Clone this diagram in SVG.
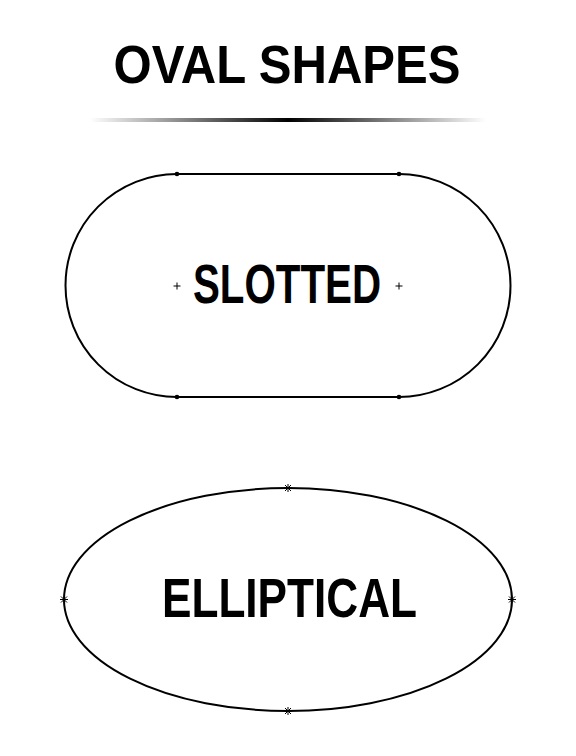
<svg xmlns="http://www.w3.org/2000/svg" width="576" height="756" viewBox="0 0 576 756">
<style>
.outline{fill:none;stroke:#000;stroke-width:2}
.mark{stroke:#000;stroke-width:1;fill:none}
.label{font-family:"Liberation Sans",Arial,sans-serif;font-weight:bold;fill:#000;text-anchor:middle}
</style>
<defs>
<linearGradient id="rule" x1="0" y1="0" x2="1" y2="0">
<stop offset="0" stop-color="#000" stop-opacity="0"/>
<stop offset="0.5" stop-color="#000" stop-opacity="1"/>
<stop offset="1" stop-color="#000" stop-opacity="0"/>
</linearGradient>
<g id="star">
<path class="mark" d="M-4 0H4M0-4V4M-3-3L3 3M-3 3L3-3"/>
</g>
<g id="plus">
<path class="mark" d="M-3.5 0H3.5M0-3.5V3.5"/>
</g>
</defs>
<rect width="576" height="756" fill="#fff"/>
<g id="title">
<text class="label" x="287" y="83" font-size="53" textLength="347" lengthAdjust="spacingAndGlyphs">OVAL SHAPES</text>
<rect x="90" y="118" width="396" height="4" fill="url(#rule)"/>
</g>
<g id="slotted">
<path class="outline" d="M177 174H399A111.5 111.5 0 0 1 399 397H177A111.5 111.5 0 0 1 177 174Z"/>
<circle cx="177" cy="174" r="2.3"/>
<circle cx="399" cy="174" r="2.3"/>
<circle cx="177" cy="397" r="2.3"/>
<circle cx="399" cy="397" r="2.3"/>
<use href="#plus" x="177" y="286"/>
<use href="#plus" x="399" y="286"/>
<text class="label" x="287" y="303" font-size="56" textLength="188" lengthAdjust="spacingAndGlyphs">SLOTTED</text>
</g>
<g id="elliptical">
<ellipse class="outline" cx="288" cy="599.5" rx="224" ry="111.5"/>
<use href="#star" x="288" y="488"/>
<use href="#star" x="288" y="711"/>
<use href="#star" x="64" y="599.5"/>
<use href="#star" x="512" y="599.5"/>
<text class="label" x="289.5" y="617" font-size="55" textLength="255" lengthAdjust="spacingAndGlyphs">ELLIPTICAL</text>
</g>
<g id="connectors"></g>
</svg>
